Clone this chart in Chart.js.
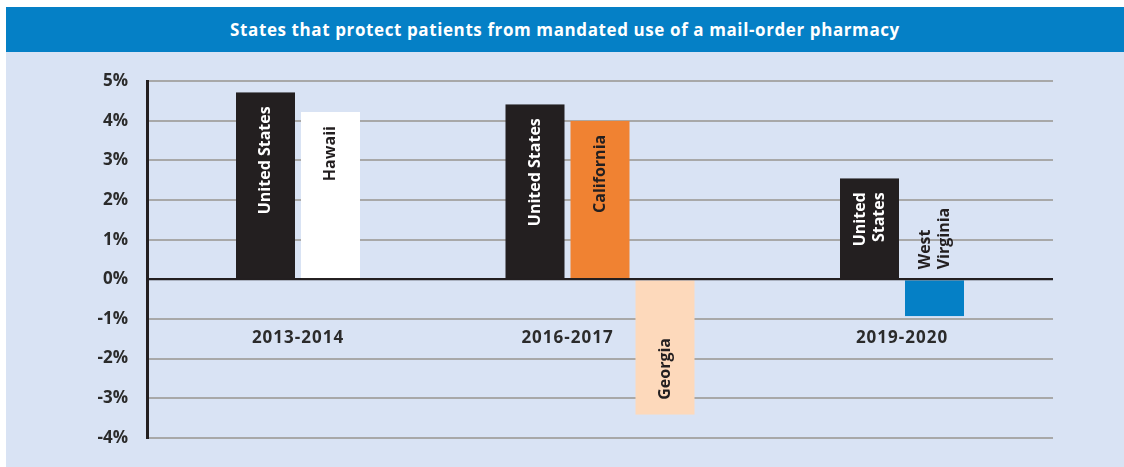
<!DOCTYPE html>
<html>
<head>
<meta charset="utf-8">
<script src="https://cdn.jsdelivr.net/npm/chart.js@4"></script>
<style>
  body { margin: 0; background: #fff; }
  #header {
    position: absolute; left: 6px; top: 7px; width: 1118px; height: 45px;
    background: #0580c6; color: #fff;
    font: 700 17px "Open Sans", sans-serif; letter-spacing: 0.6px;
    text-align: center; line-height: 46px;
  }
  #panel {
    position: absolute; left: 6px; top: 52px; width: 1118px; height: 415px;
    background: #d9e3f4;
  }
</style>
</head>
<body>
<div id="header">States that protect patients from mandated use of a mail-order pharmacy</div>
<div id="panel"><canvas id="rates-graph" width="1118" height="415"></canvas></div>
<script>
// data
let periods = ["2013-2014", "2016-2017", "2019-2020"];

let us_values = [4.72, 4.42, 2.55];
let us_labels = [["United States"], ["United States"], ["United", "States"]];

let state_values = [4.22, 4.0, -0.93];
let state_labels = [["Hawaii"], ["California"], ["West", "Virginia"]];

let extra_values = [null, -3.42, null];
let extra_labels = [null, ["Georgia"], null];

let y_ticks = [-4, -3, -2, -1, 0, 1, 2, 3, 4, 5];

const ctx = document.getElementById("rates-graph").getContext("2d");
const dark = "#231f20";
const font_name = "'Open Sans', sans-serif";

let bar_style = {
  barThickness: 65,
  borderWidth: { left: 3, right: 3, top: 0, bottom: 0 },
  borderColor: "rgba(0,0,0,0)",
  inflateAmount: 0,
};

// rotated names inside (or next to) the bars + period labels
const barNames = {
  id: "barNames",
  afterDatasetsDraw(chart) {
    let c = chart.ctx;
    let zero = chart.scales.y.getPixelForValue(0);
    c.save();
    c.font = "700 16px " + font_name;
    c.textBaseline = "middle";
    chart.data.datasets.forEach((ds, i) => {
      let meta = chart.getDatasetMeta(i);
      meta.data.forEach((bar, j) => {
        let lines = ds.names[j];
        if (!lines || ds.data[j] == null) return;
        let w = Math.max(...lines.map((l) => c.measureText(l).width));
        let h = Math.abs(bar.base - bar.y);
        let up = ds.data[j] >= 0;
        let px, align;
        if (w + 28 <= h) {
          c.fillStyle = ds.textColors[j];
          if (up) { px = bar.y + 14; align = "right"; }
          else { px = bar.y - 15; align = "left"; }
        } else {
          c.fillStyle = dark;
          if (up) { px = bar.base + 11; align = "right"; }
          else { px = bar.base - 11; align = "left"; }
        }
        c.save();
        c.translate(bar.x, px);
        c.rotate(-Math.PI / 2);
        c.textAlign = align;
        lines.forEach((l, k) => {
          c.fillText(l, 0, (k - (lines.length - 1) / 2) * 19);
        });
        c.restore();
      });
    });
    // redraw the zero line on top of the bars
    let a = chart.chartArea;
    c.strokeStyle = dark;
    c.lineWidth = 2;
    c.beginPath();
    c.moveTo(a.left, zero);
    c.lineTo(a.right, zero);
    c.stroke();
    // period labels under the first two bars of each group
    c.font = "700 17px " + font_name;
    c.letterSpacing = "1px";
    c.fillStyle = "#2b2b2b";
    c.textAlign = "center";
    let m0 = chart.getDatasetMeta(0), m1 = chart.getDatasetMeta(1);
    periods.forEach((p, j) => {
      let x = (m0.data[j].x + m1.data[j].x) / 2;
      c.fillText(p, x, zero + 59);
    });
    c.restore();
  },
};

let graph = new Chart(ctx, {
  type: "bar",
  data: {
    labels: periods,
    datasets: [
      Object.assign({
        label: "United States",
        data: us_values,
        names: us_labels,
        backgroundColor: dark,
        textColors: ["#fff", "#fff", "#fff"],
      }, bar_style),
      Object.assign({
        label: "State",
        data: state_values,
        names: state_labels,
        backgroundColor: ["#ffffff", "#f08232", "#0580c6"],
        textColors: [dark, dark, dark],
      }, bar_style),
      Object.assign({
        label: "State 2",
        data: extra_values,
        names: extra_labels,
        backgroundColor: ["#fdd9bb", "#fdd9bb", "#fdd9bb"],
        textColors: [dark, dark, dark],
      }, bar_style),
    ],
  },
  options: {
    responsive: false,
    animation: false,
    datasets: { bar: { skipNull: true } },
    layout: { padding: { top: 28, bottom: 27, left: 0, right: 71 } },
    plugins: { legend: { display: false }, tooltip: { enabled: false } },
    scales: {
      x: { display: false },
      y: {
        min: -4,
        max: 5,
        afterFit: (s) => { s.width = 141; },
        afterBuildTicks: (s) => { s.ticks = y_ticks.map((v) => ({ value: v })); },
        border: { display: true, color: dark, width: 3 },
        grid: {
          drawTicks: false,
          lineWidth: 2,
          color: (c) => (c.tick && c.tick.value === 0 ? dark : "#a8a8a8"),
        },
        ticks: {
          padding: 19,
          color: "#2b2b2b",
          font: { family: font_name, size: 17, weight: "700" },
          callback: (v) => v + "%",
        },
      },
    },
  },
  plugins: [barNames],
});
</script>
</body>
</html>
